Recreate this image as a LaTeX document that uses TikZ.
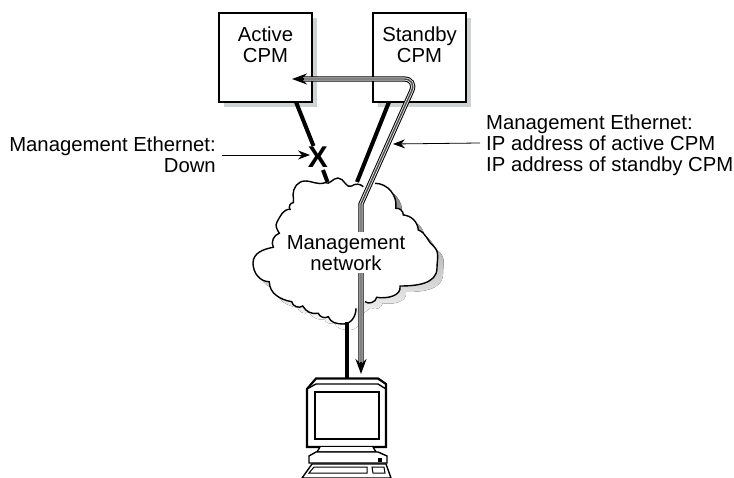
\documentclass[tikz,border=0pt]{standalone}
\usepackage{fontspec}
\setmainfont{Liberation Sans}
\usetikzlibrary{arrows.meta}
\newcommand{\cloudpath}{(363.3,186.7) to[bend right=40] (351.7,186) to[out=215,in=0] (338,178) to[out=180,in=-30] (325,182.7)
 to[out=200,in=0] (305,181) to[out=180,in=90] (293,195) to[out=270,in=70] (293.3,202.7) to[bend right=70] (290,209.3)
 to[out=180,in=60] (277,222) to[out=240,in=120] (279.3,233.3) to[bend right=50] (273.3,247.3)
 to[out=190,in=90] (253,263) to[out=270,in=180] (269.3,281.7) to[out=270,in=170] (291.7,301.7)
 to[bend right=60] (302.7,306) to[out=300,in=190] (318.3,313.3) to[bend right=50] (328.3,316.7)
 to[out=290,in=180] (343.3,324) to[out=0,in=270] (356,308.3)}
\newcommand{\cloudrest}{(365,301.7) to[bend right=60] (376.7,297.3) to[out=350,in=280] (400,286)
 to[out=0,in=270] (437,268) to[out=90,in=320] (433.3,246) to[out=140,in=340] (418.3,230) to[bend right=40] (403.3,215)
 to[bend right=50] (395.7,208.3) to[out=80,in=0] (375,183.3)}
\newcommand{\mgmtpath}{(rbot) -- (bend1) [rounded corners=13pt] -- (bend2) -- (lend)}
\tikzset{
  x=1pt,y=-1pt,
  txt/.style={font=\fontsize{20.3}{21}\selectfont,inner sep=0pt,align=center},
  cpm/.style={draw=black,line width=1.5pt,fill=white,minimum width=93pt,minimum height=89pt,inner sep=0pt},
  shadowbox/.style={fill=shade,draw=none,minimum width=93pt,minimum height=89pt},
  thicklink/.style={line width=4pt,line cap=butt},
  pointer/.style={line width=0.8pt,-{Stealth[length=12pt,width=9pt]}},
  monline/.style={draw=black,line width=1.4pt,line join=miter},
  mgmt/.style={line cap=butt},
}
\definecolor{shade}{RGB}{205,210,210}
\begin{document}
\begin{tikzpicture}
\useasboundingbox (0,0) rectangle (734,478);
% shadows
\node[shadowbox] at (270.5,62.5) {};
\node[shadowbox] at (424.5,62.5) {};
% boxes
\node[cpm] (active) at (265.5,57.5) {};
\node[cpm] (standby) at (419.5,57.5) {};
\node[txt,anchor=north] (activetxt) at (265.5,27) {Active\\CPM};
\node[txt,anchor=north] (standbytxt) at (419.5,27) {Standby\\CPM};
% coordinates
\coordinate (a1) at (296,102);
\coordinate (a1b) at (313.5,146);
\coordinate (a2b) at (323,170);
\coordinate (a2) at (327.5,182);
\coordinate (s1) at (389,102);
\coordinate (s2) at (357,182);
\coordinate (m1) at (347,322);
\coordinate (m2) at (347,378);
\coordinate (rbot) at (361,362);
\coordinate (rtip) at (361,374);
\coordinate (ltip) at (292,79);
\coordinate (lend) at (304,79);
\coordinate (bend1) at (361,204);
\coordinate (bend2) at (417,79);
% links
\draw[thicklink] (a1) -- (a1b);
\draw[thicklink] (a2b) -- (a2);
\draw[thicklink] (s1) -- (s2);
% cloud
\fill[shade,xshift=6pt,yshift=-6pt] \cloudpath -- (365,301.7) to[bend right=60] (376.7,297.3) to[out=350,in=280] (400,286)
 to[out=0,in=270] (437,268) to[out=90,in=320] (433.3,246) to[out=140,in=340] (418.3,230) to[bend right=40] (403.3,215)
 to[bend right=50] (395.7,208.3) to[out=80,in=0] (375,183.3) -- cycle;
\fill[white] \cloudpath -- (365,301.7) to[bend right=60] (376.7,297.3) to[out=350,in=280] (400,286)
 to[out=0,in=270] (437,268) to[out=90,in=320] (433.3,246) to[out=140,in=340] (418.3,230) to[bend right=40] (403.3,215)
 to[bend right=50] (395.7,208.3) to[out=80,in=0] (375,183.3) -- cycle;
\draw[line width=1.4pt] \cloudpath;
\draw[line width=1.4pt] \cloudrest;
% links over the cloud
\draw[thicklink] (m1) -- (m2);
% managed path: three nested strokes
\draw[mgmt,line width=5.2pt,black] \mgmtpath;
\draw[mgmt,line width=3.2pt,white!80!gray] \mgmtpath;
\draw[mgmt,line width=1.4pt,black!70] \mgmtpath;
\draw[line width=1.6pt,-{Stealth[length=15pt,width=11pt]}] (rbot) -- (rtip);
\draw[line width=1.6pt,-{Stealth[length=15pt,width=11pt]}] (lend) -- (ltip);
% cloud label masks the line
\node[txt,fill=white,inner xsep=1pt,inner ysep=3pt,anchor=north] (cloudtxt) at (346,232) {Management\\network};
% X mark
\node[inner sep=0pt,font=\fontsize{30}{30}\bfseries\selectfont] (xmark) at (318,157) {X};
% labels
\node[txt,anchor=north east,align=right] (ltxt) at (216,137) {Management Ethernet:\\Down};
\node[txt,anchor=north west,align=left] (rtxt) at (486,115) {Management Ethernet:\\IP address of active CPM\\IP address of standby CPM};
\coordinate (lstart) at (222,155);
\coordinate (rstart) at (480,143);
\coordinate (lpt) at (310,155);
\coordinate (rpt) at (393,144);
\draw[pointer] (lstart) -- (lpt);
\draw[pointer] (rstart) -- (rpt);
% computer
\begin{scope}
\clip (290,370) rectangle (410,478);
\draw[monline,line width=2.2pt,fill=white] (307,389) -- (316,378.5) -- (378,378.5) -- (386,384) -- (386,447) -- (307,447) -- cycle;
\draw[monline] (307,389) -- (316,384) -- (378,384) -- (386,389);
\draw[monline,line width=1.8pt] (315,392) rectangle (379,439);
\draw[monline,fill=white] (320,447) -- (317,452) -- (376,452) -- (373,447);
\draw[monline,fill=white] (309,463) -- (309,456) -- (316,452) -- (378,452) -- (387,456) -- (387,463) -- cycle;
\fill (378,458) rectangle (382,462);
\draw[monline,fill=white] (312,464) -- (386,464) -- (391,478) -- (302,478) -- cycle;
\draw[line width=1pt] (314,467) -- (367,467) -- (367,473) -- (309,473) -- cycle;
\draw[line width=1pt] (372,467) -- (384,467) -- (385,473) -- (373,473) -- cycle;
\end{scope}
\end{tikzpicture}
\end{document}
